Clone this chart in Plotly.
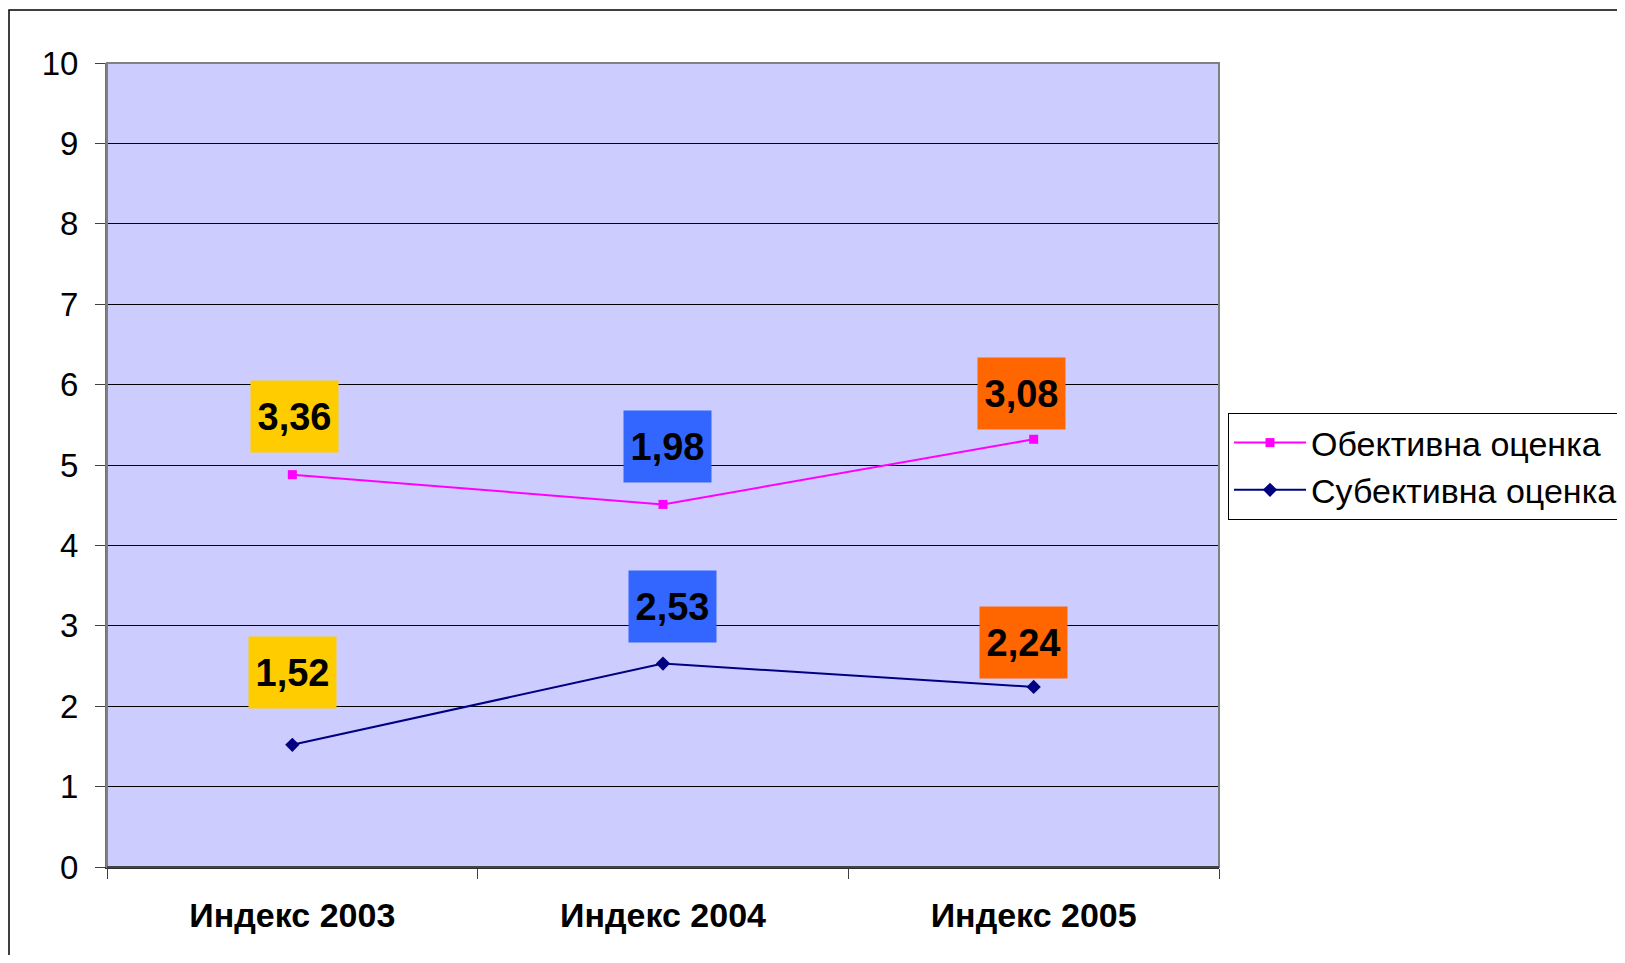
import plotly.graph_objects as go

categories = ["Индекс 2003", "Индекс 2004", "Индекс 2005"]
objective = [3.36, 1.98, 3.08]
subjective = [1.52, 2.53, 2.24]
series_names = ["Обективна оценка", "Субективна оценка"]
label_colors = ["#FFCC00", "#3366FF", "#FF6600"]
y_ticks = list(range(0, 11))

# stacked line chart: objective is drawn on top of subjective
objective_stacked = [s + o for s, o in zip(subjective, objective)]

# manual label offsets (px) as in the original
obj_shift = [(2, 58), (4, 58), (-12, 46)]
subj_shift = [(0, 72), (9, 57), (-10, 44)]

OFF = 8  # default body margin of the page
W, H = 1617, 947
L, R, T, B = 107 - OFF, 1219 - OFF, 63 - OFF, 867 - OFF

fig = go.Figure()
fig.add_trace(go.Scatter(
    x=categories, y=objective_stacked, name=series_names[0], mode="lines+markers",
    line=dict(color="#FF00FF", width=2), marker=dict(symbol="square", size=9, color="#FF00FF"),
))
fig.add_trace(go.Scatter(
    x=categories, y=subjective, name=series_names[1], mode="lines+markers",
    line=dict(color="#000080", width=2), marker=dict(symbol="diamond", size=11, color="#000080"),
))

def fmt(v):
    return f"{v:.2f}".replace(".", ",")

annotations = []
for vals, ypos, shifts in ((objective, objective_stacked, obj_shift), (subjective, subjective, subj_shift)):
    for i, cat in enumerate(categories):
        annotations.append(dict(
            x=cat, y=ypos[i], xref="x", yref="y", text=f"<b>{fmt(vals[i])}</b>",
            showarrow=False, xshift=shifts[i][0], yshift=shifts[i][1],
            bgcolor=label_colors[i], width=87, height=71, borderpad=0,
            font=dict(family="Liberation Sans, Arial", size=38, color="black"),
        ))

pw, ph = R - L, B - T
fig.update_layout(
    width=W, height=H,
    margin=dict(l=L, r=W - R, t=T, b=H - B, pad=0, autoexpand=False),
    paper_bgcolor="white", plot_bgcolor="#CCCCFF",
    font=dict(family="Liberation Sans, Arial", color="black"),
    annotations=annotations,
    showlegend=True,
    legend=dict(
        x=(1228 - OFF - L) / pw, y=(B - (413 - OFF)) / ph, xanchor="left", yanchor="top",
        bgcolor="white", bordercolor="black", borderwidth=1, itemwidth=72,
        font=dict(size=34, family="Liberation Sans, Arial", color="black"),
    ),
    xaxis=dict(
        type="category", tickson="boundaries", ticks="outside", ticklen=10,
        tickcolor="#404040", tickwidth=1, showgrid=False,
        showline=True, linecolor="#303030", linewidth=1.5,
        tickfont=dict(size=34, family="Liberation Sans, Arial", color="black", weight="bold"),
        ticklabelstandoff=17, range=[-0.5, 2.5],
    ),
    yaxis=dict(
        range=[0, 10], tickvals=y_ticks, ticks="outside", ticklen=10,
        tickcolor="#404040", tickwidth=1,
        showgrid=True, gridcolor="black", gridwidth=1,
        showline=True, linecolor="#707070", linewidth=2,
        tickfont=dict(size=33, family="Liberation Sans, Arial", color="black"),
        ticklabelstandoff=10, zeroline=False,
    ),
    shapes=[
        dict(type="rect", xref="paper", yref="paper", x0=0, x1=1, y0=0, y1=1,
             line=dict(color="#808080", width=2), fillcolor="rgba(0,0,0,0)", layer="above"),
        dict(type="line", xref="paper", yref="paper", x0=0, x1=1, y0=0, y1=0,
             line=dict(color="#303030", width=1.5), layer="above"),
        dict(type="path", xref="paper", yref="paper",
             path=f"M {(1 - L) / pw} {(B - (H + 20)) / ph} L {(1 - L) / pw} {(B - 2) / ph} L {(W + 20 - L) / pw} {(B - 2) / ph}",
             line=dict(color="black", width=1.5)),
    ],
)

fig.write_html("out.html")
